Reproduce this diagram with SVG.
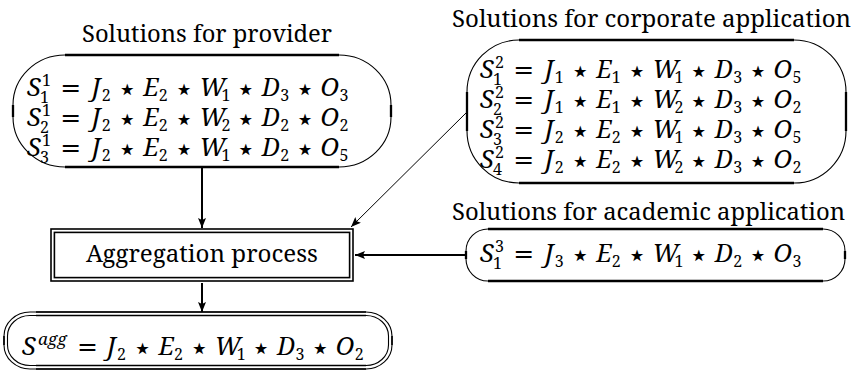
<svg xmlns="http://www.w3.org/2000/svg" width="857" height="371" viewBox="0 0 857 371">
<style>
.bg{fill:#fff}
.thin{fill:none;stroke:#000;stroke-width:1.1}
.thick{fill:none;stroke:#000;stroke-width:2.3}
.dbl{fill:none;stroke:#000;stroke-width:1.6}
.t{font-family:'Noto Serif','Liberation Serif','DejaVu Serif',serif;font-size:23px;fill:#000}
.v{font-family:'Noto Serif','Liberation Serif','DejaVu Serif',serif;font-style:italic;font-size:25px}
.s{font-family:'Noto Serif','Liberation Serif','DejaVu Serif',serif;font-size:16px}
.si{font-family:'Noto Serif','Liberation Serif','DejaVu Serif',serif;font-style:italic;font-size:17px}
.eq{font-family:'DejaVu Sans',sans-serif;font-size:25px;text-anchor:middle}
.st{font-family:'DejaVu Sans',sans-serif;font-size:32px;text-anchor:middle}
.c1{fill:none;stroke:#000;stroke-width:2}
.c2{fill:none;stroke:#000;stroke-width:1}
</style>
<defs>
<marker id="ah" viewBox="0 0 10 8" refX="10" refY="4" markerWidth="10" markerHeight="8" markerUnits="userSpaceOnUse" orient="auto">
<path d="M0,0 L10,4 L0,8 L2,4 Z" fill="#000"/>
</marker>
</defs>
<rect class="bg" x="0" y="0" width="857" height="371"/>

<g id="provider">
<text class="t" x="82" y="42" textLength="250" lengthAdjust="spacingAndGlyphs">Solutions for provider</text>
<path class="thin" d="M65,55 H339 A52,50 0 0 1 391,105 V117 A52,50 0 0 1 339,167 H65 A52,50 0 0 1 13,117 V105 A52,50 0 0 1 65,55 Z"/>
<path class="thick" d="M65,55 H339 M65,167 H339 M391,105 V117 M13,105 V117"/>
<text><tspan class="v" x="27" y="96">S</tspan><tspan class="s" x="42" y="86">1</tspan><tspan class="s" x="40" y="103">1</tspan><tspan class="eq" x="70.8" y="96">=</tspan><tspan class="v" x="91.8" y="96">J</tspan><tspan class="s" x="101.8" y="101">2</tspan><tspan class="st" x="127.3" y="100">⋆</tspan><tspan class="v" x="143.3" y="96">E</tspan><tspan class="s" x="158.8" y="101">2</tspan><tspan class="st" x="184" y="100">⋆</tspan><tspan class="v" x="199.6" y="96">W</tspan><tspan class="s" x="221.6" y="101">1</tspan><tspan class="st" x="245.8" y="100">⋆</tspan><tspan class="v" x="261.7" y="96">D</tspan><tspan class="s" x="280.2" y="101">3</tspan><tspan class="st" x="305" y="100">⋆</tspan><tspan class="v" x="320.5" y="96">O</tspan><tspan class="s" x="339.5" y="101">3</tspan><tspan class="v" x="27" y="126">S</tspan><tspan class="s" x="42" y="116">1</tspan><tspan class="s" x="40" y="133">2</tspan><tspan class="eq" x="70.8" y="126">=</tspan><tspan class="v" x="91.8" y="126">J</tspan><tspan class="s" x="101.8" y="131">2</tspan><tspan class="st" x="127.3" y="130">⋆</tspan><tspan class="v" x="143.3" y="126">E</tspan><tspan class="s" x="158.8" y="131">2</tspan><tspan class="st" x="184" y="130">⋆</tspan><tspan class="v" x="199.6" y="126">W</tspan><tspan class="s" x="221.6" y="131">2</tspan><tspan class="st" x="245.8" y="130">⋆</tspan><tspan class="v" x="261.7" y="126">D</tspan><tspan class="s" x="280.2" y="131">2</tspan><tspan class="st" x="305" y="130">⋆</tspan><tspan class="v" x="320.5" y="126">O</tspan><tspan class="s" x="339.5" y="131">2</tspan><tspan class="v" x="27" y="156">S</tspan><tspan class="s" x="42" y="146">1</tspan><tspan class="s" x="40" y="163">3</tspan><tspan class="eq" x="70.8" y="156">=</tspan><tspan class="v" x="91.8" y="156">J</tspan><tspan class="s" x="101.8" y="161">2</tspan><tspan class="st" x="127.3" y="160">⋆</tspan><tspan class="v" x="143.3" y="156">E</tspan><tspan class="s" x="158.8" y="161">2</tspan><tspan class="st" x="184" y="160">⋆</tspan><tspan class="v" x="199.6" y="156">W</tspan><tspan class="s" x="221.6" y="161">1</tspan><tspan class="st" x="245.8" y="160">⋆</tspan><tspan class="v" x="261.7" y="156">D</tspan><tspan class="s" x="280.2" y="161">2</tspan><tspan class="st" x="305" y="160">⋆</tspan><tspan class="v" x="320.5" y="156">O</tspan><tspan class="s" x="339.5" y="161">5</tspan></text>
</g>

<g id="corporate">
<text class="t" x="452" y="27" textLength="399" lengthAdjust="spacingAndGlyphs">Solutions for corporate application</text>
<path class="thin" d="M519,40 H794 A52,52 0 0 1 846,92 V131 A52,52 0 0 1 794,183 H519 A52,52 0 0 1 467,131 V92 A52,52 0 0 1 519,40 Z"/>
<path class="thick" d="M519,40 H794 M519,183 H794 M846,92 V131 M467,92 V131"/>
<text><tspan class="v" x="480" y="78">S</tspan><tspan class="s" x="495" y="68">2</tspan><tspan class="s" x="493" y="85">1</tspan><tspan class="eq" x="523.8" y="78">=</tspan><tspan class="v" x="544.8" y="78">J</tspan><tspan class="s" x="554.8" y="83">1</tspan><tspan class="st" x="580.3" y="82">⋆</tspan><tspan class="v" x="596.3" y="78">E</tspan><tspan class="s" x="611.8" y="83">1</tspan><tspan class="st" x="637" y="82">⋆</tspan><tspan class="v" x="652.6" y="78">W</tspan><tspan class="s" x="674.6" y="83">1</tspan><tspan class="st" x="698.8" y="82">⋆</tspan><tspan class="v" x="714.7" y="78">D</tspan><tspan class="s" x="733.2" y="83">3</tspan><tspan class="st" x="758" y="82">⋆</tspan><tspan class="v" x="773.5" y="78">O</tspan><tspan class="s" x="792.5" y="83">5</tspan><tspan class="v" x="480" y="108">S</tspan><tspan class="s" x="495" y="98">2</tspan><tspan class="s" x="493" y="115">2</tspan><tspan class="eq" x="523.8" y="108">=</tspan><tspan class="v" x="544.8" y="108">J</tspan><tspan class="s" x="554.8" y="113">1</tspan><tspan class="st" x="580.3" y="112">⋆</tspan><tspan class="v" x="596.3" y="108">E</tspan><tspan class="s" x="611.8" y="113">1</tspan><tspan class="st" x="637" y="112">⋆</tspan><tspan class="v" x="652.6" y="108">W</tspan><tspan class="s" x="674.6" y="113">2</tspan><tspan class="st" x="698.8" y="112">⋆</tspan><tspan class="v" x="714.7" y="108">D</tspan><tspan class="s" x="733.2" y="113">3</tspan><tspan class="st" x="758" y="112">⋆</tspan><tspan class="v" x="773.5" y="108">O</tspan><tspan class="s" x="792.5" y="113">2</tspan><tspan class="v" x="480" y="138">S</tspan><tspan class="s" x="495" y="128">2</tspan><tspan class="s" x="493" y="145">3</tspan><tspan class="eq" x="523.8" y="138">=</tspan><tspan class="v" x="544.8" y="138">J</tspan><tspan class="s" x="554.8" y="143">2</tspan><tspan class="st" x="580.3" y="142">⋆</tspan><tspan class="v" x="596.3" y="138">E</tspan><tspan class="s" x="611.8" y="143">2</tspan><tspan class="st" x="637" y="142">⋆</tspan><tspan class="v" x="652.6" y="138">W</tspan><tspan class="s" x="674.6" y="143">1</tspan><tspan class="st" x="698.8" y="142">⋆</tspan><tspan class="v" x="714.7" y="138">D</tspan><tspan class="s" x="733.2" y="143">3</tspan><tspan class="st" x="758" y="142">⋆</tspan><tspan class="v" x="773.5" y="138">O</tspan><tspan class="s" x="792.5" y="143">5</tspan><tspan class="v" x="480" y="168">S</tspan><tspan class="s" x="495" y="158">2</tspan><tspan class="s" x="493" y="175">4</tspan><tspan class="eq" x="523.8" y="168">=</tspan><tspan class="v" x="544.8" y="168">J</tspan><tspan class="s" x="554.8" y="173">2</tspan><tspan class="st" x="580.3" y="172">⋆</tspan><tspan class="v" x="596.3" y="168">E</tspan><tspan class="s" x="611.8" y="173">2</tspan><tspan class="st" x="637" y="172">⋆</tspan><tspan class="v" x="652.6" y="168">W</tspan><tspan class="s" x="674.6" y="173">2</tspan><tspan class="st" x="698.8" y="172">⋆</tspan><tspan class="v" x="714.7" y="168">D</tspan><tspan class="s" x="733.2" y="173">3</tspan><tspan class="st" x="758" y="172">⋆</tspan><tspan class="v" x="773.5" y="168">O</tspan><tspan class="s" x="792.5" y="173">2</tspan></text>
</g>

<g id="academic">
<text class="t" x="452" y="220" textLength="393" lengthAdjust="spacingAndGlyphs">Solutions for academic application</text>
<path class="thin" d="M488,229 H823 A22,22 0 0 1 845,251 V259 A22,22 0 0 1 823,281 H488 A22,22 0 0 1 466,259 V251 A22,22 0 0 1 488,229 Z"/>
<path class="thick" d="M488,229 H823 M488,281 H823 M845,251 V259 M466,251 V259"/>
<text><tspan class="v" x="480" y="262">S</tspan><tspan class="s" x="495" y="252">3</tspan><tspan class="s" x="493" y="269">1</tspan><tspan class="eq" x="523.8" y="262">=</tspan><tspan class="v" x="544.8" y="262">J</tspan><tspan class="s" x="554.8" y="267">3</tspan><tspan class="st" x="580.3" y="266">⋆</tspan><tspan class="v" x="596.3" y="262">E</tspan><tspan class="s" x="611.8" y="267">2</tspan><tspan class="st" x="637" y="266">⋆</tspan><tspan class="v" x="652.6" y="262">W</tspan><tspan class="s" x="674.6" y="267">1</tspan><tspan class="st" x="698.8" y="266">⋆</tspan><tspan class="v" x="714.7" y="262">D</tspan><tspan class="s" x="733.2" y="267">2</tspan><tspan class="st" x="758" y="266">⋆</tspan><tspan class="v" x="773.5" y="262">O</tspan><tspan class="s" x="792.5" y="267">3</tspan></text>
</g>

<g id="aggregation">
<rect class="dbl" x="51" y="229" width="302" height="52"/>
<rect class="dbl" x="54.4" y="232.4" width="295.2" height="45.2"/>
<text class="t" x="86" y="262" textLength="232" lengthAdjust="spacingAndGlyphs">Aggregation process</text>
</g>

<g id="result">
<path class="thin" d="M30,312 H366 A26,24 0 0 1 392,336 V345 A26,24 0 0 1 366,369 H30 A26,24 0 0 1 4,345 V336 A26,24 0 0 1 30,312 Z"/>
<path class="thin" d="M30,315.5 H366 A22.5,20.5 0 0 1 388.5,336 V345 A22.5,20.5 0 0 1 366,365.5 H30 A22.5,20.5 0 0 1 7.5,345 V336 A22.5,20.5 0 0 1 30,315.5 Z"/>
<path class="dbl" d="M36,312 H366 M36,315.5 H366 M36,369 H366 M36,365.5 H366 M392,336 V345 M4,336 V345"/>
<text><tspan class="v" x="22" y="355">S</tspan><tspan class="si" x="38" y="345">agg</tspan><tspan class="eq" x="87.5" y="355">=</tspan><tspan class="v" x="107" y="355">J</tspan><tspan class="s" x="117" y="360">2</tspan><tspan class="st" x="142.5" y="359">⋆</tspan><tspan class="v" x="158.5" y="355">E</tspan><tspan class="s" x="174" y="360">2</tspan><tspan class="st" x="199.2" y="359">⋆</tspan><tspan class="v" x="214.8" y="355">W</tspan><tspan class="s" x="236.8" y="360">1</tspan><tspan class="st" x="261" y="359">⋆</tspan><tspan class="v" x="276.9" y="355">D</tspan><tspan class="s" x="295.4" y="360">3</tspan><tspan class="st" x="320.2" y="359">⋆</tspan><tspan class="v" x="335.7" y="355">O</tspan><tspan class="s" x="354.7" y="360">2</tspan></text>
</g>

<g id="connectors">
<line class="c1" x1="202" y1="168" x2="202" y2="228" marker-end="url(#ah)"/>
<line class="c2" x1="467" y1="112" x2="351" y2="227" marker-end="url(#ah)"/>
<line class="c1" x1="466" y1="255" x2="355" y2="255" marker-end="url(#ah)"/>
<line class="c1" x1="202" y1="283" x2="202" y2="312" marker-end="url(#ah)"/>
</g>
</svg>
